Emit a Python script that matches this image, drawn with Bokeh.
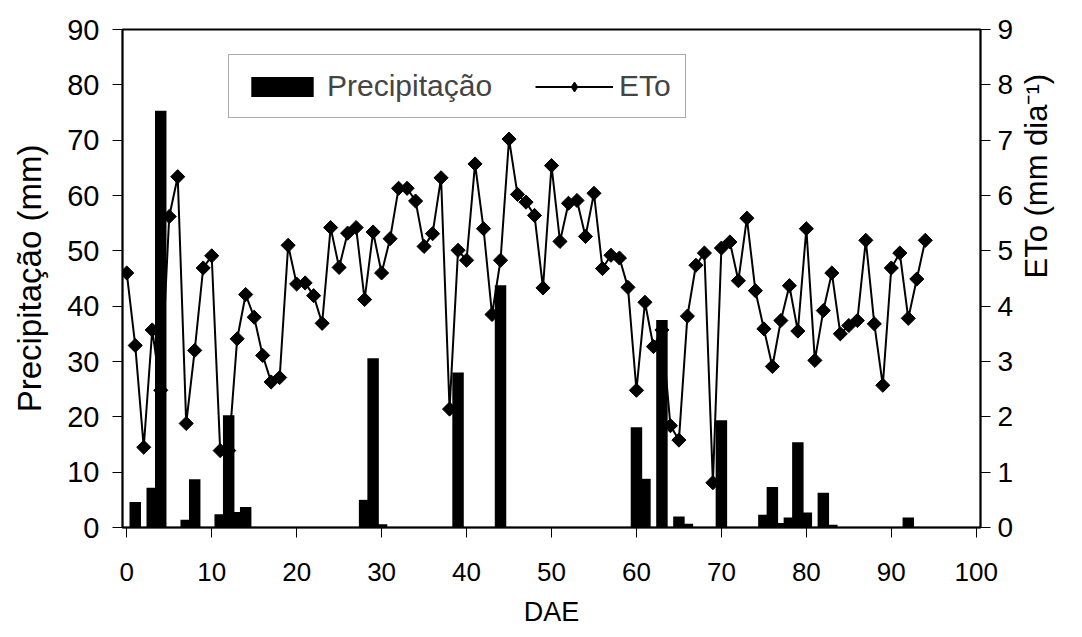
import math
from bokeh.plotting import figure
from bokeh.models import Range1d, LinearAxis, FixedTicker, Legend, LegendItem
from bokeh.embed import file_html
from bokeh.resources import INLINE

# ---- data ----
eto_days = list(range(0, 95))
eto = [4.60, 3.29, 1.45, 3.57, 2.48, 5.62, 6.34, 1.88, 3.20, 4.69,
       4.91, 1.39, 1.39, 3.41, 4.21, 3.80, 3.11, 2.63, 2.71, 5.10,
       4.40, 4.42, 4.19, 3.69, 5.42, 4.70, 5.32, 5.42, 4.12, 5.34,
       4.60, 5.22, 6.13, 6.13, 5.90, 5.08, 5.31, 6.32, 2.14, 5.01,
       4.83, 6.57, 5.40, 3.85, 4.83, 7.02, 6.02, 5.88, 5.64, 4.33,
       6.54, 5.17, 5.86, 5.91, 5.26, 6.04, 4.68, 4.92, 4.87, 4.34,
       2.48, 4.07, 3.27, 3.57, 1.84, 1.58, 3.82, 4.74, 4.96, 0.81,
       5.05, 5.16, 4.46, 5.59, 4.28, 3.59, 2.91, 3.74, 4.37, 3.55,
       5.40, 3.02, 3.92, 4.60, 3.50, 3.65, 3.74, 5.19, 3.68, 2.57,
       4.69, 4.96, 3.78, 4.49, 5.19]
precip_days = [1, 3, 4, 7, 8, 11, 12, 13, 14, 28, 29, 30, 39, 44, 60, 61, 63,
               65, 66, 70, 75, 76, 77, 78, 79, 80, 82, 83, 92]
precip_mm = [4.6, 7.2, 75.3, 1.4, 8.7, 2.4, 20.3, 2.8, 3.7, 5.0, 30.6, 0.6,
             28.0, 43.8, 18.1, 8.8, 37.5, 2.0, 0.7, 19.4, 2.3, 7.3, 0.8, 1.8,
             15.4, 2.7, 6.3, 0.5, 1.8]
x_ticks = [0, 10, 20, 30, 40, 50, 60, 70, 80, 90, 100]
left_ticks = [0, 10, 20, 30, 40, 50, 60, 70, 80, 90]
right_ticks = [0, 1, 2, 3, 4, 5, 6, 7, 8, 9]

FONT = "Liberation Sans"

p = figure(width=1074, height=629, output_backend="svg", toolbar_location=None,
           x_range=Range1d(-0.5, 100.5), y_range=Range1d(0, 90),
           min_border_left=122, min_border_right=91, min_border_top=29,
           min_border_bottom=102)
p.extra_y_ranges = {"eto": Range1d(0, 9)}

p.xgrid.grid_line_color = None
p.ygrid.grid_line_color = None
p.outline_line_color = "black"
p.outline_line_width = 2
p.background_fill_color = "white"
p.border_fill_color = "white"

bars = p.vbar(x=precip_days, top=precip_mm, bottom=0, width=1.35,
              fill_color="black", line_color=None)
line = p.line(eto_days, eto, y_range_name="eto", line_color="black", line_width=2)
# diamond used as the legend glyph; its single point sits on a black bar (day 4)
leg_diamond = p.scatter(x=eto_days[4:5], y=eto[4:5], y_range_name="eto",
                        marker="diamond", size=17,
                        fill_color="black", line_color="black")
pts = p.scatter(eto_days, eto, y_range_name="eto", marker="square", size=10,
                angle=math.pi / 4, fill_color="black", line_color="black")

right_axis = LinearAxis(y_range_name="eto")
p.add_layout(right_axis, "right")

xa = p.xaxis[0]
ya = p.yaxis[0]
xa.ticker = FixedTicker(ticks=x_ticks)
ya.ticker = FixedTicker(ticks=left_ticks)
right_axis.ticker = FixedTicker(ticks=right_ticks)

xa.axis_label = "DAE"
ya.axis_label = "Precipitação (mm)"
right_axis.axis_label = "ETo (mm dia\u207b\u00b9)"

for ax in (xa, ya, right_axis):
    ax.axis_line_color = "black"
    ax.axis_line_width = 1.5
    ax.major_tick_line_color = "black"
    ax.major_tick_line_width = 1
    ax.major_tick_out = 10
    ax.major_tick_in = 0
    ax.minor_tick_line_color = None
    ax.major_label_text_font = FONT
    ax.major_label_text_color = "black"
    ax.axis_label_text_font = FONT
    ax.axis_label_text_font_style = "normal"
    ax.axis_label_text_color = "black"

xa.major_label_text_font_size = "26px"
xa.axis_label_text_font_size = "27px"
ya.major_label_text_font_size = "29px"
ya.axis_label_text_font_size = "33px"
right_axis.major_label_text_font_size = "28px"
right_axis.axis_label_text_font_size = "31px"

xa.major_label_standoff = 25
xa.axis_label_standoff = 13
ya.major_label_standoff = 13
ya.axis_label_standoff = 16
right_axis.major_label_standoff = 7
right_axis.axis_label_standoff = 20
try:
    right_axis.axis_label_orientation = math.pi / 2
except Exception:
    pass

legend = Legend(items=[LegendItem(label="Precipitação", renderers=[bars]),
                       LegendItem(label="ETo", renderers=[line, leg_diamond])],
                orientation="horizontal", location=(106, 409),
                glyph_width=78, glyph_height=25, label_standoff=6, spacing=43,
                padding=14, margin=0, label_height=32,
                label_text_font=FONT, label_text_font_size="30px",
                border_line_color="#555555", border_line_width=1,
                background_fill_color="white", background_fill_alpha=1)
p.add_layout(legend)

open("out.html", "w").write(file_html(p, INLINE))
